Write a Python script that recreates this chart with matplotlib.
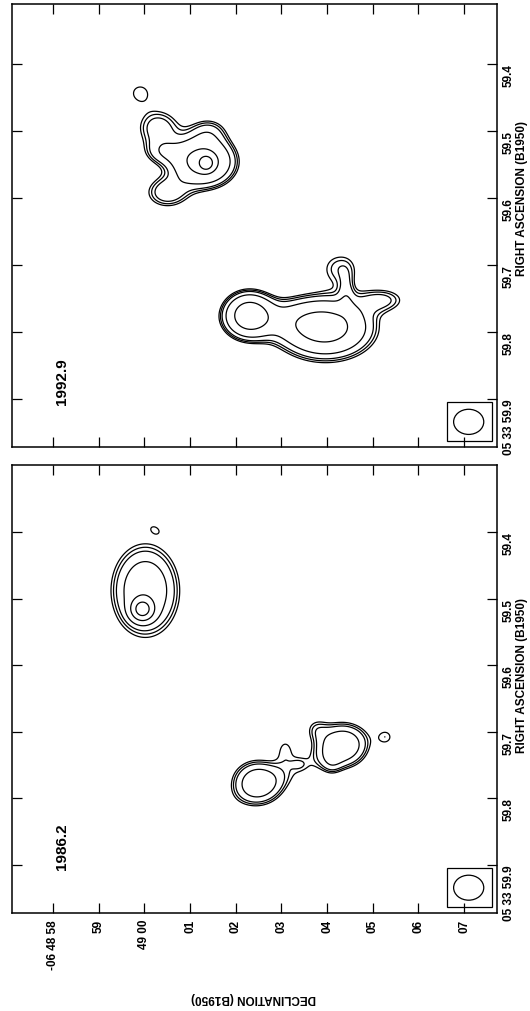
import numpy as np
import matplotlib.pyplot as plt
from matplotlib.patches import Rectangle, Ellipse

plt.rcParams["font.family"] = ["Liberation Sans", "DejaVu Sans"]
plt.rcParams["font.weight"] = "bold"

# =========================
# axes values
# =========================

# declination: arcsec offset from -06 48 58
dec_ticks = [0, 1, 2, 3, 4, 5, 6, 7, 8, 9]
dec_labels = ["-06 48 58", "59", "49 00", "01", "02", "03", "04", "05", "06", "07"]

# right ascension seconds (05 33 ..)
ra_ticks = [59.4, 59.5, 59.6, 59.7, 59.8, 59.9]
ra_labels = ["59.4", "59.5", "59.6", "59.7", "59.8", "05 33 59.9"]

epochs = ["1992.9", "1986.2"]

# contour levels (relative)
levels = [1.0, 1.2, 1.45, 2.2, 4.5, 9.0]

# =========================
# source components (amp, dec offset, ra, sigma dec ["], sigma ra ["], pa)
# =========================

# 1992.9
c92_amp = [12.0, 6.0, 1.5, 1.8, 1.9, 1.3, 1.15,
           6.5, 5.5, 1.5, 1.35, 0.9, 1.5]
c92_dec = [3.35, 3.28, 2.40, 2.30, 2.50, 3.40, 1.905,
           4.29, 5.97, 5.20, 6.28, 6.42, 7.20]
c92_ra = [59.548, 59.546, 59.532, 59.495, 59.592, 59.500, 59.4435,
          59.775, 59.795, 59.782, 59.705, 59.740, 59.752]
c92_sdec = [0.09, 0.42, 0.30, 0.35, 0.35, 0.30, 0.25,
            0.32, 0.62, 0.80, 0.35, 0.12, 0.40]
c92_sra = [0.09, 0.33, 0.20, 0.30, 0.25, 0.22, 0.23,
           0.29, 0.40, 0.30, 0.30, 0.30, 0.20]
c92_pa = [0, 0, 0, 0, 0, 0, 0,
          0, 0, 0, 0, 0, 0]

# 1986.2
c86_amp = [10.2, 3.6, 0.78,
           3.0, 3.2, 0.45, 0.75, 1.0, 0.8, 0.9, 1.0]
c86_dec = [1.955, 2.02, 2.23,
           4.47, 6.33, 5.39, 5.40, 5.08, 6.10, 5.75, 7.29]
c86_ra = [59.516, 59.488, 59.396,
          59.776, 59.720, 59.748, 59.755, 59.725, 59.745, 59.695, 59.708]
c86_sdec = [0.145, 0.47, 0.15,
            0.36, 0.36, 0.13, 1.10, 0.18, 0.15, 0.20, 0.16]
c86_sra = [0.145, 0.64, 0.10,
           0.32, 0.32, 0.11, 0.25, 0.25, 0.20, 0.20, 0.16]
c86_pa = [0, 0, 30,
          0, 0, 0, -25, 0, 0, 0, 0]

# restoring beam
beam_dec = 9.1
beam_ra = 59.934
beam_w = 0.66
beam_h = 0.0375

RA_SCALE = 14.58  # arcsec per second of RA


def make_map(D, R, amp, dc, rc, sd, sr, pa):
    Z = np.zeros_like(D)
    for a, d0, r0, s1, s2, p in zip(amp, dc, rc, sd, sr, pa):
        u = D - d0
        v = (R - r0) * RA_SCALE
        t = np.deg2rad(p)
        uu = u * np.cos(t) + v * np.sin(t)
        vv = -u * np.sin(t) + v * np.cos(t)
        Z += a * np.exp(-0.5 * ((uu / s1) ** 2 + (vv / s2) ** 2))
    return Z


d_grid = np.linspace(-0.95, 9.8, 700)
r_grid = np.linspace(59.28, 59.99, 700)
D, R = np.meshgrid(d_grid, r_grid)

maps = [
    make_map(D, R, c92_amp, c92_dec, c92_ra, c92_sdec, c92_sra, c92_pa),
    make_map(D, R, c86_amp, c86_dec, c86_ra, c86_sdec, c86_sra, c86_pa),
]

# =========================
# figure
# =========================

fig = plt.figure(figsize=(5.30, 10.11), dpi=100)

W = 1011.0
boxes = [
    [12 / 530, 1 - 447 / W, 485 / 530, 443 / W],
    [12 / 530, 1 - 913 / W, 485 / 530, 448 / W],
]
ra_lims = [(59.9715, 59.311), (59.972, 59.2994)]
label_y = [0.562, 0.531]

for i, box in enumerate(boxes):

    ax = fig.add_axes(box)

    ax.contour(
        D, R, maps[i],
        levels=levels,
        colors="black",
        linewidths=0.9
    )

    ax.set_xlim(-0.9, 9.72)
    ax.set_ylim(*ra_lims[i])

    ax.set_xticks(dec_ticks)
    ax.set_yticks(ra_ticks)
    ax.set_yticklabels(ra_labels)

    if i == 1:
        ax.set_xticklabels(dec_labels)
    else:
        ax.set_xticklabels([])

    ax.tick_params(
        axis="both", direction="in", length=7.5, width=0.9,
        top=True, bottom=True, left=True, right=True
    )
    ax.tick_params(
        axis="y", labelleft=False, labelright=True,
        labelrotation=90, labelsize=8.5, pad=4
    )
    ax.tick_params(
        axis="x", labelrotation=90, labelsize=8.5, pad=5
    )
    for lab in ax.get_yticklabels():
        lab.set_va("top")
        lab.set_ha("left")
    for lab in ax.get_xticklabels():
        lab.set_va("top")
        lab.set_ha("center")

    for s in ax.spines.values():
        s.set_linewidth(1.1)

    ax.text(
        1.052, label_y[i], "RIGHT ASCENSION (B1950)",
        transform=ax.transAxes, rotation=90,
        ha="center", va="center", fontsize=8.5, fontweight="bold"
    )

    ax.text(
        0.103, 0.147, epochs[i],
        transform=ax.transAxes, rotation=90,
        ha="center", va="center", fontsize=11, fontweight="bold"
    )

    # beam box
    ax.add_patch(Rectangle(
        (8.63, 59.905), 0.97, 0.058,
        fill=False, edgecolor="black", linewidth=0.9
    ))
    ax.add_patch(Ellipse(
        (beam_dec, beam_ra), beam_w, beam_h,
        fill=False, edgecolor="black", linewidth=0.9
    ))

fig.text(
    254 / 530, 1 - 998 / W, "DECLINATION (B1950)",
    rotation=180, ha="center", va="center",
    fontsize=8.5, fontweight="bold"
)

fig.savefig("out.png", dpi=100)
